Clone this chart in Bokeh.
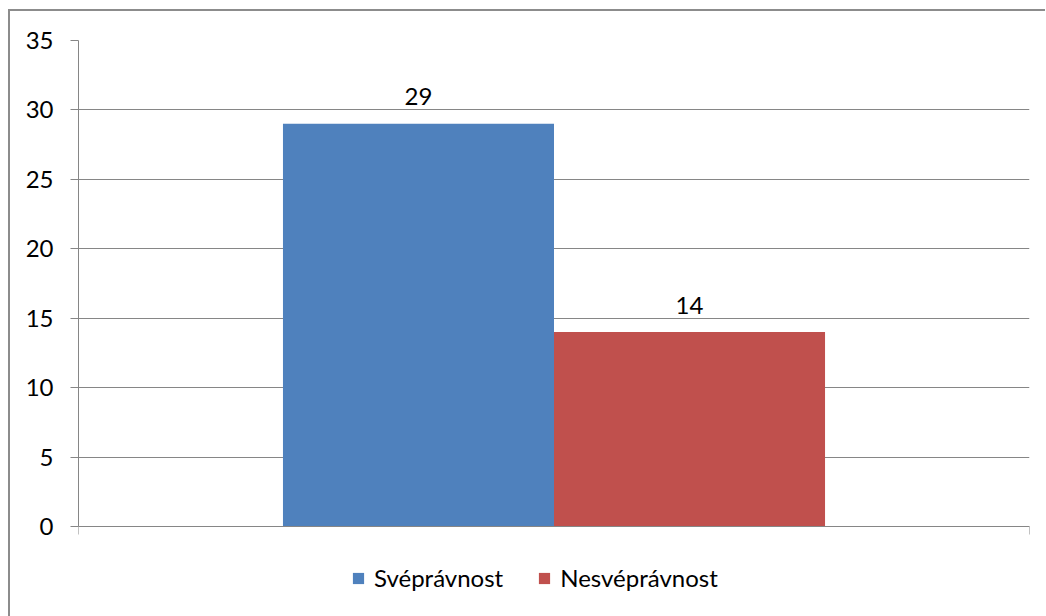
from bokeh.plotting import figure
from bokeh.models import Range1d, FixedTicker, ColumnDataSource, Legend, LegendItem
from bokeh.embed import file_html
from bokeh.resources import INLINE
from bokeh.core.properties import value

categories = ["Svéprávnost", "Nesvéprávnost"]
values = [29, 14]
colors = ["#4F81BD", "#C0504D"]
y_ticks = [0, 5, 10, 15, 20, 25, 30, 35]
y_max = 35

FONT = "Lato"
FS = "24px"
GRAY = "#868686"

PLOT_H = 486          # pixel height of the 0..35 value area
FRAME_H = 566         # frame extends below 0 to hold the legend
y_min = -(FRAME_H - PLOT_H) * y_max / PLOT_H

p = figure(frame_width=951, frame_height=FRAME_H, output_backend="svg", toolbar_location=None,
           x_range=Range1d(0, 1), y_range=Range1d(y_min, y_max),
           min_border_left=68, min_border_top=29, min_border_right=16, min_border_bottom=10)
p.styles = {"margin-left": "8px", "margin-top": "9px",
            "border-left": "2px solid #8c8c8c", "border-top": "2px solid #8c8c8c"}
p.outline_line_color = None
p.background_fill_color = "white"
p.border_fill_color = "white"

group_width = 0.57
bar_w = group_width / len(values)
xs = [0.5 - group_width / 2 + bar_w * (i + 0.5) for i in range(len(values))]
src = ColumnDataSource(dict(x=xs, top=values, color=colors, cat=categories,
                            label=[str(v) for v in values]))

r = p.vbar(x="x", top="top", width=bar_w, color="color", line_color=None, source=src)
p.text(x="x", y="top", text="label", source=src, text_align="center", text_baseline="middle",
       y_offset=-27, text_font=value(FONT), text_font_size=FS, text_color="black")

p.yaxis.ticker = FixedTicker(ticks=y_ticks)
p.yaxis.bounds = (0, y_max)
p.yaxis.axis_line_color = GRAY
p.yaxis.major_tick_line_color = GRAY
p.yaxis.major_tick_out = 8
p.yaxis.major_tick_in = 0
p.yaxis.minor_tick_line_color = None
p.yaxis.major_label_standoff = 17
p.yaxis.major_label_text_font = FONT
p.yaxis.major_label_text_font_size = FS
p.yaxis.major_label_text_color = "black"

p.xaxis.ticker = FixedTicker(ticks=[0, 1])
p.xaxis.fixed_location = 0
p.xaxis.major_label_overrides = {0: "", 1: ""}
p.xaxis.major_label_text_font_size = "1px"
p.xaxis.axis_line_color = GRAY
p.xaxis.major_tick_line_color = GRAY
p.xaxis.major_tick_out = 8
p.xaxis.major_tick_in = 0
p.xaxis.minor_tick_line_color = None
p.xaxis.major_label_standoff = 0

p.xgrid.grid_line_color = None
p.ygrid.ticker = FixedTicker(ticks=y_ticks)
p.ygrid.grid_line_color = GRAY

items = [LegendItem(label=c, renderers=[r], index=i) for i, c in enumerate(categories)]
legend = Legend(items=items, orientation="horizontal", location=(273, 14),
                label_text_font=FONT, label_text_font_size=FS, label_text_color="black",
                glyph_width=14, glyph_height=14, label_standoff=9, spacing=34,
                border_line_color=None, background_fill_alpha=0, padding=8, margin=0)
p.add_layout(legend, "center")

open("out.html", "w").write(file_html(p, INLINE))
